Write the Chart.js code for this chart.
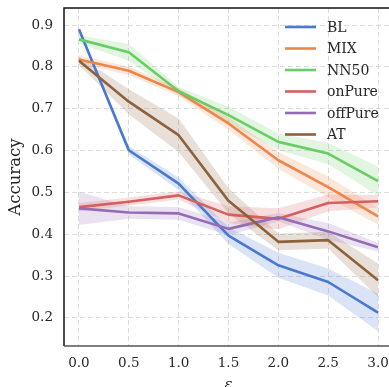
<!DOCTYPE html>
<html><head><meta charset="utf-8">
<script src="https://cdn.jsdelivr.net/npm/chart.js@4"></script>
<style>
html,body{margin:0;padding:0;overflow:hidden;background:#fff;width:389px;height:387px}
#wrap{position:absolute;left:0;top:0;width:395px;height:400px}
</style></head><body>
<div id="wrap"><canvas id="c" width="395" height="400"></canvas></div>
<script>
const eps = [0, 0.5, 1.0, 1.5, 2.0, 2.5, 3.0];
const xTicks = [0, 0.5, 1.0, 1.5, 2.0, 2.5, 3.0];
const yTicks = [0.2, 0.3, 0.4, 0.5, 0.6, 0.7, 0.8, 0.9];
const names = ['BL', 'MIX', 'NN50', 'onPure', 'offPure', 'AT'];
const colors = ['#4878d0', '#ee854a', '#6acc64', '#d65f5f', '#956cb4', '#8c613c'];

const BL      = [0.890, 0.601, 0.521, 0.397, 0.326, 0.286, 0.213];
const BL_err  = [0.005, 0.010, 0.015, 0.020, 0.030, 0.032, 0.045];
const MIX     = [0.818, 0.791, 0.740, 0.665, 0.577, 0.513, 0.443];
const MIX_err = [0.010, 0.010, 0.010, 0.015, 0.020, 0.025, 0.020];
const NN50     = [0.866, 0.835, 0.742, 0.685, 0.621, 0.593, 0.527];
const NN50_err = [0.010, 0.020, 0.010, 0.020, 0.020, 0.025, 0.035];
const onPure     = [0.465, 0.478, 0.493, 0.447, 0.437, 0.475, 0.479];
const onPure_err = [0.010, 0.010, 0.010, 0.020, 0.025, 0.020, 0.015];
const offPure     = [0.462, 0.452, 0.450, 0.413, 0.441, 0.407, 0.369];
const offPure_err = [0.040, 0.015, 0.015, 0.015, 0.010, 0.020, 0.010];
const AT     = [0.815, 0.717, 0.637, 0.480, 0.382, 0.386, 0.290];
const AT_err = [0.010, 0.030, 0.040, 0.030, 0.020, 0.020, 0.040];

const means = [BL, MIX, NN50, onPure, offPure, AT];
const errs = [BL_err, MIX_err, NN50_err, onPure_err, offPure_err, AT_err];

function rgba(hex, a) {
  const n = parseInt(hex.slice(1), 16);
  return `rgba(${(n >> 16) & 255},${(n >> 8) & 255},${n & 255},${a})`;
}
const pts = arr => arr.map((v, i) => ({x: eps[i], y: v}));

const datasets = [];
names.forEach((nm, k) => {
  datasets.push({label: nm + '_lo', data: pts(means[k].map((v, i) => v - errs[k][i])),
    borderWidth: 0, pointRadius: 0, fill: false, order: 20});
  datasets.push({label: nm + '_hi', data: pts(means[k].map((v, i) => v + errs[k][i])),
    borderWidth: 0, pointRadius: 0, fill: '-1', backgroundColor: rgba(colors[k], 0.2), order: 20});
});
names.forEach((nm, k) => {
  datasets.push({label: nm, data: pts(means[k]), borderColor: colors[k], borderWidth: 2.6,
    pointRadius: 0, fill: false, tension: 0, order: 10 - k, borderJoinStyle: 'round', borderCapStyle: 'butt'});
});

const FONT = '"DejaVu Serif", serif';
const TXT = '#262626';

const framePlugin = {
  id: 'frame',
  afterDraw(chart) {
    const {ctx, chartArea: a} = chart;
    ctx.save();
    ctx.lineWidth = 1.5;
    ctx.strokeStyle = '#111';
    ctx.beginPath();
    ctx.moveTo(a.left, a.bottom); ctx.lineTo(a.left, a.top); ctx.lineTo(a.right, a.top);
    ctx.stroke();
    ctx.strokeStyle = '#555';
    ctx.beginPath();
    ctx.moveTo(a.left, a.bottom); ctx.lineTo(a.right, a.bottom);
    ctx.stroke();
    // legend
    const x0 = a.right - 108, y0 = a.top + 19, dy = 21.5;
    ctx.font = '14px ' + FONT;
    ctx.textBaseline = 'middle';
    ctx.fillStyle = TXT;
    names.forEach((nm, k) => {
      const y = y0 + k * dy;
      ctx.strokeStyle = colors[k];
      ctx.lineWidth = 2.6;
      ctx.beginPath(); ctx.moveTo(x0, y); ctx.lineTo(x0 + 31, y); ctx.stroke();
      ctx.fillText(nm, x0 + 42, y + 1);
    });
    ctx.restore();
  }
};

new Chart(document.getElementById('c'), {
  type: 'line',
  data: {datasets},
  options: {
    responsive: false,
    animation: false,
    layout: {padding: {top: 8, right: 2, left: 0, bottom: 0}},
    plugins: {legend: {display: false}, tooltip: {enabled: false}},
    scales: {
      x: {
        type: 'linear', min: -0.15, max: 3.15,
        afterBuildTicks: s => { s.ticks = xTicks.map(v => ({value: v})); },
        afterFit: s => { s.height = 54; s.paddingLeft = 0; s.paddingRight = 0; },
        grid: {color: '#dcdcdc', lineWidth: 1, drawTicks: false},
        border: {display: true, width: 0, dash: [5, 3]},
        ticks: {color: TXT, font: {family: FONT, size: 13.5}, padding: 9,
          callback: v => Number(v).toFixed(1), maxRotation: 0},
        title: {display: true, text: 'ε', color: TXT, font: {family: FONT, size: 15, style: 'italic'}, padding: {top: 0, bottom: 6}}
      },
      y: {
        type: 'linear', min: 0.133, max: 0.941,
        afterBuildTicks: s => { s.ticks = yTicks.map(v => ({value: v})); },
        afterFit: s => { s.width = 64; s.paddingTop = 0; s.paddingBottom = 0; },
        grid: {color: '#dcdcdc', lineWidth: 1, drawTicks: false},
        border: {display: true, width: 0, dash: [5, 3]},
        ticks: {color: TXT, font: {family: FONT, size: 13.5}, padding: 11,
          callback: v => Number(v).toFixed(1)},
        title: {display: true, text: 'Accuracy', color: TXT, font: {family: FONT, size: 16.5}, padding: {top: 6, bottom: 0}}
      }
    }
  },
  plugins: [framePlugin]
});
</script>
</body></html>
